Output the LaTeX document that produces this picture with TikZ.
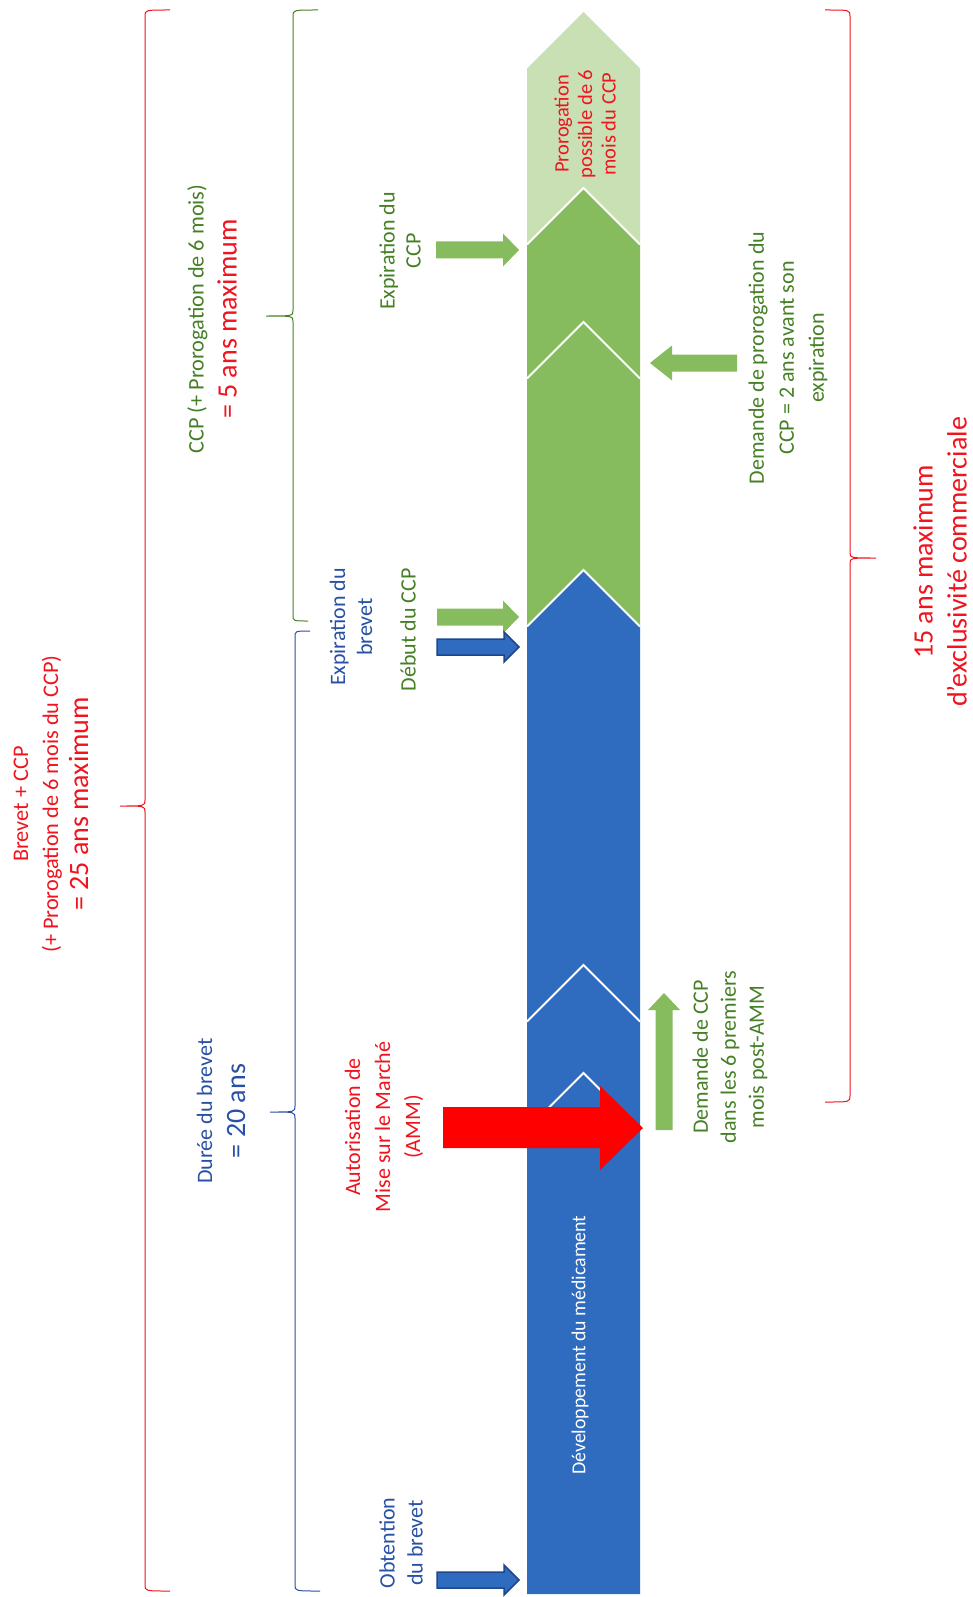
\documentclass[tikz,border=0pt]{standalone}
\usepackage{fontspec}
\setmainfont{Carlito}
\definecolor{barblue}{RGB}{47,108,192}
\definecolor{bargreen}{RGB}{134,188,93}
\definecolor{lightgreen}{RGB}{200,224,180}
\definecolor{arrred}{RGB}{255,0,0}
\definecolor{txtred}{RGB}{240,20,30}
\definecolor{txtgreen}{RGB}{70,128,38}
\definecolor{txtblue}{RGB}{40,80,165}
\definecolor{arrblueline}{RGB}{30,70,140}
\begin{document}
\begin{tikzpicture}[x=1pt,y=-1pt,
  lbl/.style={rotate=90, align=center, inner sep=0pt, font=\fontsize{22}{28}\selectfont},
  bigf/.style={font=\fontsize{28}{34}\selectfont},
  wline/.style={white, line width=2pt},
  bracered/.style={draw=txtred, line width=1pt},
  braceblue/.style={draw=txtblue, line width=1pt},
  bracegreen/.style={draw=txtgreen, line width=1pt},
  arrowline/.style={draw=arrblueline, line width=1.5pt, line join=miter}]
\useasboundingbox (0,0) rectangle (973,1597);
\fill[white] (0,0) rectangle (973,1597);

% ---- main bar ----
\fill[lightgreen] (527,68.5) -- (583.5,12) -- (640,68.5) -- (640,244.5) -- (583.5,188) -- (527,244.5) -- cycle;
\fill[bargreen] (527,244.5) -- (583.5,188) -- (640,244.5) -- (640,626.5) -- (583.5,570) -- (527,626.5) -- cycle;
\fill[barblue] (527,626.5) -- (583.5,570) -- (640,626.5) -- (640,1594) -- (527,1594) -- cycle;
\draw[wline] (527,244.5) -- (583.5,188) -- (640,244.5);
\draw[wline] (527,378.5) -- (583.5,322) -- (640,378.5);
\draw[wline] (527,626.5) -- (583.5,570) -- (640,626.5);
\draw[wline] (527,1021.5) -- (583.5,965) -- (640,1021.5);
\draw[wline] (527,1129.5) -- (583.5,1073) -- (640,1129.5);

\node[lbl, font=\fontsize{20.5}{23.5}\selectfont, text=txtred] (prorog) at (585,124) {Prorogation\\possible de 6\\mois du CCP};
\node[lbl, font=\fontsize{19.8}{23}\selectfont, text=white] (dev) at (580,1345) {Développement du médicament};

% ---- arrows ----
\fill[bargreen] (436,241.5) -- (503,241.5) -- (503,233.5) -- (519,250) -- (503,266.5) -- (503,258.5) -- (436,258.5) -- cycle;
\fill[bargreen] (437,608.5) -- (503,608.5) -- (503,600.5) -- (519,617) -- (503,633.5) -- (503,625.5) -- (437,625.5) -- cycle;
\filldraw[fill=barblue, arrowline] (437,639) -- (504,639) -- (504,632) -- (519,647) -- (504,662) -- (504,655) -- (437,655) -- cycle;
\filldraw[fill=barblue, arrowline] (437,1572) -- (504,1572) -- (504,1565) -- (519,1580) -- (504,1595) -- (504,1588) -- (437,1588) -- cycle;
\fill[bargreen] (737,354.5) -- (672,354.5) -- (672,345.5) -- (650,363) -- (672,380.5) -- (672,371.5) -- (737,371.5) -- cycle;
\fill[arrred] (443,1107) -- (600,1107) -- (600,1086) -- (643,1128) -- (600,1170) -- (600,1148) -- (443,1148) -- cycle;
\fill[bargreen] (655.5,1130) -- (655.5,1010) -- (648,1010) -- (664,993) -- (680,1010) -- (672.5,1010) -- (672.5,1130) -- cycle;

% ---- braces ----
\path[bracered] (170,10) .. controls (145,10) .. (145,16) -- (145,800) .. controls (145,806) .. (120,806) .. controls (145,806) .. (145,812) -- (145,1585) .. controls (145,1591) .. (170,1591);
\path[bracegreen] (318,10) .. controls (293,10) .. (293,16) -- (293,310) .. controls (293,316) .. (266,316) .. controls (293,316) .. (293,322) -- (293,615) .. controls (293,621) .. (308,621);
\path[braceblue] (310,631) .. controls (295,631) .. (295,637) -- (295,1106) .. controls (295,1112) .. (270,1112) .. controls (295,1112) .. (295,1118) -- (295,1585) .. controls (295,1591) .. (320,1591);
\path[bracered] (825,10) .. controls (850,10) .. (850,16) -- (850,552) .. controls (850,558) .. (876,558) .. controls (850,558) .. (850,564) -- (850,1096) .. controls (850,1102) .. (825,1102);

% ---- labels ----
\node[lbl, text=txtred, font=\fontsize{22.3}{30}\selectfont] (brevetccp) at (51,804) {Brevet + CCP\\(+ Prorogation de 6 mois du CCP)\\{\fontsize{28}{34}\selectfont = 25 ans maximum}};
\node[lbl, font=\fontsize{22.3}{33}\selectfont] (ccp) at (212,319) {\color{txtgreen}CCP (+ Prorogation de 6 mois)\\{\fontsize{28}{34}\selectfont\color{txtred} = 5 ans maximum}};
\node[lbl, text=txtblue, font=\fontsize{22}{33}\selectfont] (duree) at (221,1111) {Durée du brevet\\{\fontsize{28}{34}\selectfont = 20 ans}};
\node[lbl, text=txtred, bigf] (excl) at (940,562) {15 ans maximum\\d'exclusivité commerciale};
\node[lbl, text=txtgreen, font=\fontsize{22}{26}\selectfont] (expccp) at (400,251) {Expiration du\\CCP};
\node[lbl, text=txtgreen, font=\fontsize{22}{30}\selectfont] (demprorog) at (788,358) {Demande de prorogation du\\CCP = 2 ans avant son\\expiration};
\node[lbl, text=txtblue, font=\fontsize{22}{27}\selectfont] (expbrevet) at (351,627) {Expiration du\\brevet};
\node[lbl, text=txtgreen] (debutccp) at (408,630) {Début du CCP};
\node[lbl, text=txtred, font=\fontsize{22}{30}\selectfont] (amm) at (384,1127) {Autorisation de\\Mise sur le Marché\\(AMM)};
\node[lbl, text=txtgreen] (demccp) at (730,1057) {Demande de CCP\\dans les 6 premiers\\mois post-AMM};
\node[lbl, text=txtblue] (obtention) at (401,1543) {Obtention\\du brevet};
\end{tikzpicture}
\end{document}
